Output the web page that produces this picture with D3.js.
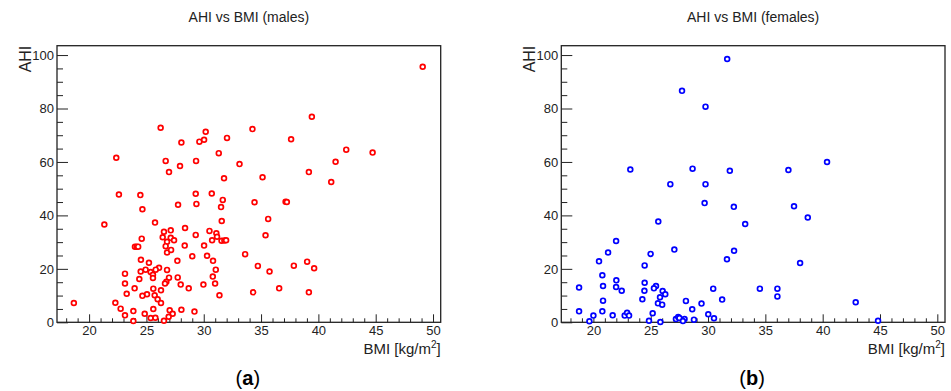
<!DOCTYPE html>
<html>
<head>
<meta charset="utf-8">
<script src="https://cdn.jsdelivr.net/npm/d3@7"></script>
<style>
  html, body { margin: 0; padding: 0; background: #fff; }
  svg { display: block; }
  text { font-family: "Liberation Sans", Arial, sans-serif; }
</style>
</head>
<body>
<svg id="chart" width="951" height="391"></svg>
<script>
// ---- data ----
const maleBMI = [22.37,26.24,26.68,26.97,28.05,27.93,29.33,29.62,30.03,30.17,31.31,31.77,32.03,33.12,49.1,39.43,34.25,37.62,42.43,44.73,41.5,35.13,39.17,41.12,18.67,21.33,22.6,24.47,24.65,25.75,29.3,30.7,27.76,29.36,31.66,31.51,31.57,26.53,27.12,28.37,29.3,30.5,31.1,31.16,30.73,31.55,31.8,31.95,24.59,26.42,27.12,27.41,26.8,26.68,28.34,30.03,24.0,24.15,24.28,26.8,27.15,29.0,30.29,33.61,24.52,25.22,27.7,30.81,26.1,25.81,24.93,26.8,31.05,25.37,24.5,25.57,23.13,25.57,26.97,27.73,30.79,24.38,26.74,26.62,23.13,27.99,29.97,30.99,23.97,25.6,28.69,26.27,23.28,25.05,24.65,25.72,31.37,25.98,26.27,22.29,22.75,25.6,28.05,27.03,29.19,23.86,23.13,24.85,27.29,25.37,25.78,26.94,23.86,26.53,34.43,37.14,37.25,35.62,35.39,34.72,37.86,39.02,39.63,35.74,36.58,34.31,39.17];
const maleAHI = [61.6,72.8,60.4,56.2,67.3,58.5,60.4,67.6,68.3,71.3,63.3,53.9,69.0,59.2,95.6,76.9,72.3,68.5,64.6,63.5,60.1,54.3,56.2,52.5,7.2,36.6,47.8,47.6,42.3,37.3,48.1,48.2,44.0,44.3,45.8,43.1,37.9,33.9,34.4,35.3,32.7,34.2,33.3,32.0,30.7,30.5,30.6,30.7,31.3,31.8,31.6,30.7,30.1,28.5,28.7,28.7,28.3,28.3,28.3,26.1,27.1,24.7,24.9,25.5,23.4,22.3,23.0,23.0,20.4,19.7,19.7,19.6,19.7,18.8,19.0,17.8,18.2,16.6,16.7,16.8,17.1,16.2,15.2,14.5,14.5,14.1,14.1,14.5,12.7,12.6,12.7,12.0,10.7,10.5,9.9,10.1,10.1,8.6,7.2,7.3,5.1,5.0,4.7,4.5,4.0,4.2,2.6,3.2,3.2,1.6,1.7,2.1,0.5,0.6,44.9,45.1,45.0,38.7,32.6,21.1,21.2,22.7,20.2,19.0,12.7,11.2,11.2];

const femaleBMI = [27.73,29.78,23.22,28.65,26.71,29.78,31.67,40.38,31.9,37.01,29.7,25.66,21.98,21.28,27.06,20.49,24.99,24.47,20.78,22.0,24.47,18.75,20.84,21.98,25.46,25.28,30.45,24.45,22.47,26.04,26.27,25.81,24.27,20.84,28.07,31.23,25.63,29.43,26.0,28.62,18.75,20.78,20.0,21.68,22.73,22.94,23.11,25.17,30.02,30.52,27.2,27.4,27.5,27.95,27.81,28.77,19.65,24.85,25.84,32.25,37.5,38.7,33.24,32.27,31.65,38.03,34.52,36.05,36.05,42.88,44.83];
const femaleAHI = [86.6,80.7,57.2,57.5,51.7,51.7,98.5,60.0,56.7,57.0,44.6,37.7,30.4,26.1,27.2,22.8,25.6,21.3,17.6,15.7,14.8,13.0,13.6,13.2,13.6,12.7,12.6,11.8,11.8,11.7,10.5,9.4,8.6,8.1,8.0,8.5,7.1,7.0,6.6,4.9,4.1,4.1,2.5,2.6,2.5,3.6,2.5,3.4,3.0,1.5,1.2,2.0,1.6,1.2,0.5,1.0,0.4,0.6,0.1,43.2,43.4,39.2,36.8,26.8,23.6,22.2,12.6,12.6,9.7,7.5,0.6];

const xTicks = [20, 25, 30, 35, 40, 45, 50];
const yTicks = [0, 20, 40, 60, 80, 100];
const titles = ["AHI vs BMI (males)", "AHI vs BMI (females)"];
const panelLabels = ["a", "b"];

// ---- drawing ----
const svg = d3.select("#chart");
const xDomain = [17.2, 50.67];
const yDomain = [0, 103.5];
const plotTop = 45.7, plotBottom = 322.3;

const panels = [
  {left: 57, right: 440.7, bmi: maleBMI, ahi: maleAHI, color: "#ff0000", title: titles[0], lab: panelLabels[0]},
  {left: 561.3, right: 945, bmi: femaleBMI, ahi: femaleAHI, color: "#0000ff", title: titles[1], lab: panelLabels[1]}
];

panels.forEach(p => {
  const x = d3.scaleLinear().domain(xDomain).range([p.left, p.right]);
  const y = d3.scaleLinear().domain(yDomain).range([plotBottom, plotTop]);
  const g = svg.append("g");

  const xMinor = d3.range(18, 51, 1).filter(v => v % 5 !== 0);
  const gxm = g.append("g").attr("transform", `translate(0,${plotBottom})`)
    .call(d3.axisBottom(x).tickValues(xMinor).tickSize(-4).tickFormat(""));
  gxm.select(".domain").remove();
  gxm.selectAll("line").attr("stroke", "#222");

  const gx = g.append("g").attr("transform", `translate(0,${plotBottom})`)
    .call(d3.axisBottom(x).tickValues(xTicks).tickSize(-8).tickPadding(3).tickFormat(d3.format("d")));
  gx.select(".domain").remove();
  gx.selectAll("line").attr("stroke", "#222");
  gx.selectAll("text").attr("font-size", 13).attr("fill", "#222")
    .attr("font-family", "Liberation Sans, Arial, sans-serif");

  const yMinor = d3.range(5, 103, 5).filter(v => v % 20 !== 0);
  const gym = g.append("g").attr("transform", `translate(${p.left},0)`)
    .call(d3.axisLeft(y).tickValues(yMinor).tickSize(-6).tickFormat(""));
  gym.select(".domain").remove();
  gym.selectAll("line").attr("stroke", "#222");

  const gy = g.append("g").attr("transform", `translate(${p.left},0)`)
    .call(d3.axisLeft(y).tickValues(yTicks).tickSize(-11).tickPadding(3).tickFormat(d3.format("d")));
  gy.select(".domain").remove();
  gy.selectAll("line").attr("stroke", "#222");
  gy.selectAll("text").attr("font-size", 13).attr("fill", "#222")
    .attr("font-family", "Liberation Sans, Arial, sans-serif");

  g.append("rect")
    .attr("x", p.left).attr("y", plotTop)
    .attr("width", p.right - p.left).attr("height", plotBottom - plotTop)
    .attr("fill", "none").attr("stroke", "#222").attr("stroke-width", 1.3);

  g.append("g").selectAll("circle")
    .data(p.bmi.map((b, i) => [b, p.ahi[i]]))
    .join("circle")
    .attr("cx", d => x(d[0]))
    .attr("cy", d => y(d[1]))
    .attr("r", 2.4)
    .attr("fill", "#fff")
    .attr("stroke", p.color)
    .attr("stroke-width", 1.7);

  svg.append("text")
    .attr("x", (p.left + p.right) / 2)
    .attr("y", 22)
    .attr("text-anchor", "middle")
    .attr("font-size", 14)
    .attr("fill", "#222")
    .text(p.title);

  svg.append("text")
    .attr("transform", `translate(${p.left - 26},${plotTop}) rotate(-90)`)
    .attr("text-anchor", "end")
    .attr("font-size", 16)
    .attr("fill", "#222")
    .text("AHI");

  const xl = svg.append("text")
    .attr("x", p.right)
    .attr("y", 354)
    .attr("text-anchor", "end")
    .attr("font-size", 15)
    .attr("fill", "#222");
  xl.append("tspan").text("BMI [kg/m");
  xl.append("tspan").attr("font-size", 10).attr("dy", -6).text("2");
  xl.append("tspan").attr("dy", 6).text("]");

  const pl = svg.append("text")
    .attr("x", (p.left + p.right) / 2 - 1)
    .attr("y", 385)
    .attr("text-anchor", "middle")
    .attr("font-size", 20)
    .attr("font-family", "'Liberation Serif', 'DejaVu Serif', serif")
    .attr("fill", "#000");
  pl.append("tspan").text("(");
  pl.append("tspan").attr("font-weight", "bold").text(p.lab);
  pl.append("tspan").text(")");
});
</script>
</body>
</html>
